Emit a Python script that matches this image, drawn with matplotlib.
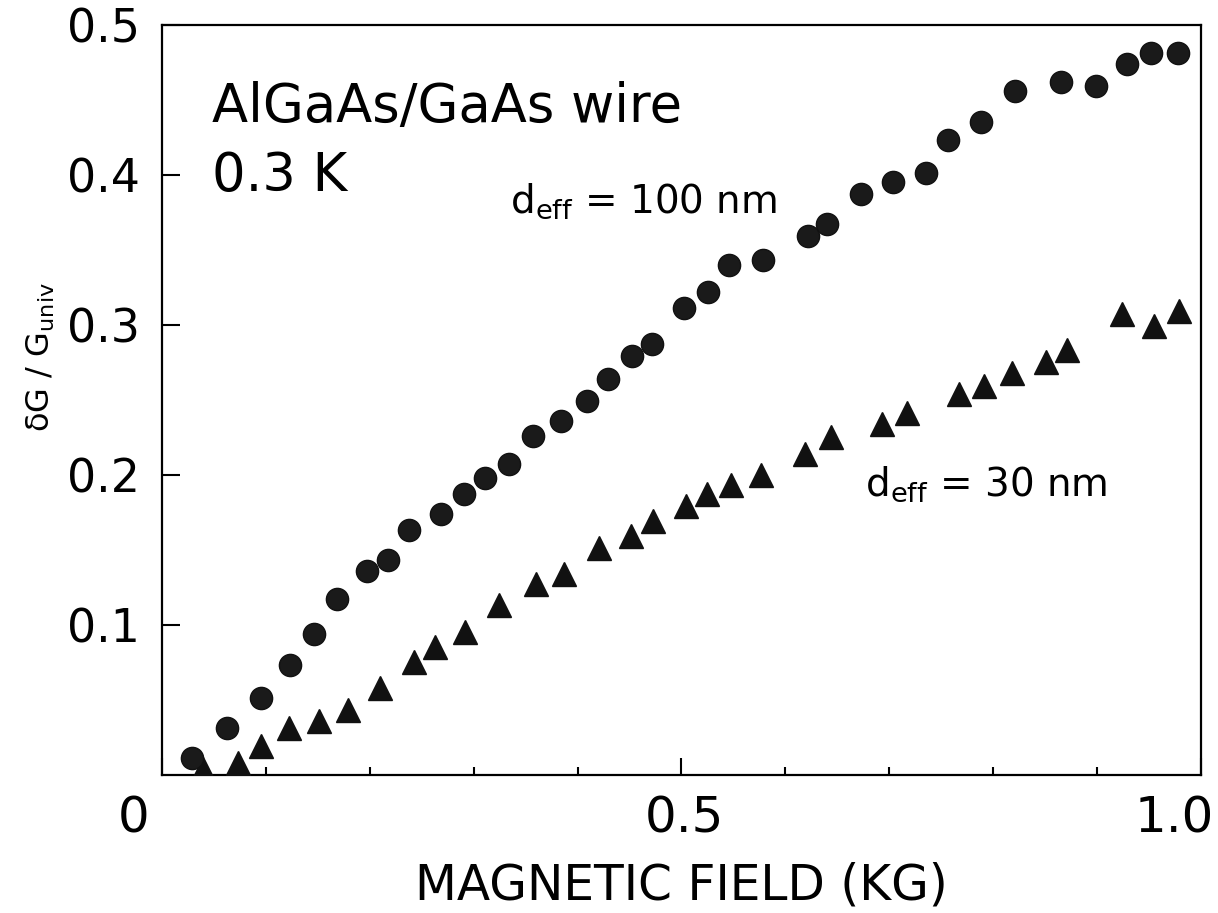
import numpy as np
import matplotlib
matplotlib.use("Agg")
import matplotlib.pyplot as plt
from matplotlib.transforms import ScaledTranslation

# d_eff = 100 nm (circles)
b_100 = [0.029, 0.063, 0.095, 0.123, 0.146, 0.168, 0.197, 0.218, 0.238, 0.269,
         0.291, 0.311, 0.334, 0.357, 0.384, 0.409, 0.429, 0.452, 0.472, 0.502,
         0.526, 0.546, 0.578, 0.622, 0.640, 0.673, 0.704, 0.735, 0.757, 0.788,
         0.821, 0.865, 0.899, 0.929, 0.952, 0.978]
g_100 = [0.011, 0.031, 0.051, 0.073, 0.094, 0.117, 0.136, 0.143, 0.163, 0.174,
         0.187, 0.198, 0.207, 0.226, 0.236, 0.249, 0.264, 0.279, 0.287, 0.311,
         0.322, 0.340, 0.343, 0.359, 0.367, 0.387, 0.395, 0.401, 0.423, 0.435,
         0.456, 0.462, 0.459, 0.474, 0.481, 0.481]

# d_eff = 30 nm (triangles)
b_30 = [0.039, 0.073, 0.095, 0.122, 0.151, 0.179, 0.210, 0.243, 0.263, 0.292,
        0.324, 0.360, 0.387, 0.421, 0.451, 0.473, 0.504, 0.525, 0.548, 0.577,
        0.619, 0.644, 0.693, 0.717, 0.767, 0.791, 0.818, 0.851, 0.871, 0.924,
        0.955, 0.979]
g_30 = [0.004, 0.008, 0.019, 0.031, 0.036, 0.043, 0.058, 0.075, 0.085, 0.095,
        0.113, 0.127, 0.134, 0.151, 0.159, 0.169, 0.179, 0.187, 0.193, 0.200,
        0.214, 0.225, 0.234, 0.241, 0.254, 0.259, 0.268, 0.275, 0.283, 0.307,
        0.299, 0.309]

xticks_major = [0, 0.5, 1.0]
xtick_labels = ["0", "0.5", "1.0"]
xticks_minor = [0.1, 0.2, 0.3, 0.4, 0.6, 0.7, 0.8, 0.9]
yticks = [0.1, 0.2, 0.3, 0.4, 0.5]
ytick_labels = ["0.1", "0.2", "0.3", "0.4", "0.5"]

plt.rcParams["font.family"] = ["DejaVu Sans"]

fig = plt.figure(figsize=(12.18, 9.13), dpi=100)
ax = fig.add_axes([0.133, 0.1512, 0.853, 0.8215])

ax.plot(b_30, g_30, "^", ms=17, color="#111111", mec="#111111", zorder=3)
ax.plot(b_100, g_100, "o", ms=16, color="#1a1a1a", mec="#111111", zorder=4)

ax.set_xlim(0, 1.0)
ax.set_ylim(0, 0.5)
for s in ax.spines.values():
    s.set_linewidth(1.6)

ax.set_xticks(xticks_major)
ax.set_xticklabels(xtick_labels, fontsize=36)
ax.set_xticks(xticks_minor, minor=True)
ax.set_yticks(yticks)
ax.set_yticklabels(ytick_labels, fontsize=33)
ax.tick_params(axis="x", which="major", direction="in", length=12, width=1.5, pad=14)
ax.tick_params(axis="x", which="minor", direction="in", length=6, width=1.5)
ax.tick_params(axis="y", which="major", direction="in", length=13, width=1.5, pad=16)

# the printed labels sit a little off their ticks
for lab, dx in zip(ax.get_xticklabels(), [-28, 3, -27]):
    lab.set_transform(lab.get_transform() + ScaledTranslation(dx / 100, 0, fig.dpi_scale_trans))

ax.set_xlabel("MAGNETIC FIELD (KG)", fontsize=35)
ax.xaxis.set_label_coords(0.5, -0.115)
ax.set_ylabel("δG / G$_{\\rm univ}$", fontsize=23)
ax.yaxis.set_label_coords(-0.101, 0.557)

ax.text(0.048, 0.870, "AlGaAs/GaAs wire", transform=ax.transAxes,
        fontsize=38, va="baseline")
ax.text(0.048, 0.779, "0.3 K", transform=ax.transAxes, fontsize=38, va="baseline")
ax.text(0.335, 0.749, "d$_{\\rm eff}$ = 100 nm", transform=ax.transAxes,
        fontsize=28, va="baseline")
ax.text(0.677, 0.372, "d$_{\\rm eff}$ = 30 nm", transform=ax.transAxes,
        fontsize=28, va="baseline")

fig.savefig("out.png", dpi=100)
